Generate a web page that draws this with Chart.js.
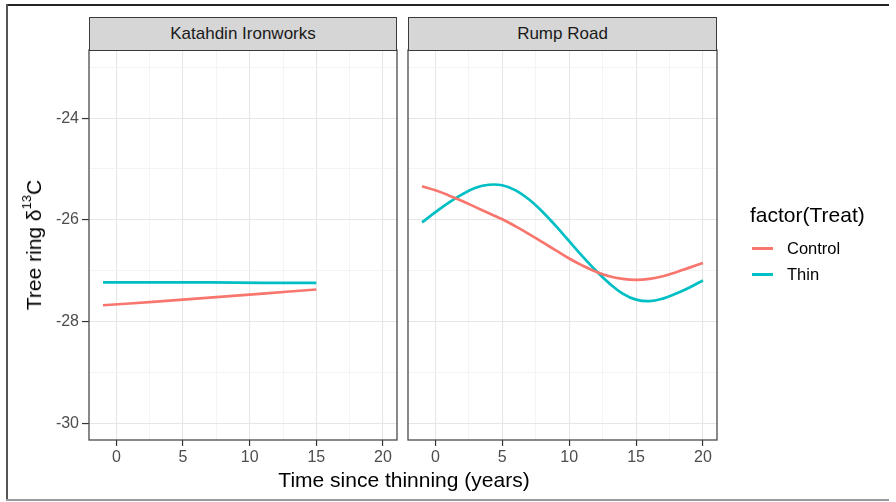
<!DOCTYPE html>
<html>
<head>
<meta charset="utf-8">
<script src="https://cdn.jsdelivr.net/npm/chart.js@4/dist/chart.umd.min.js"></script>
<style>
  html, body { margin: 0; padding: 0; background: #fff; }
  #page { position: relative; width: 896px; height: 502px; overflow: hidden; background: #fff;
          font-family: "Liberation Sans", Arial, Helvetica, sans-serif; }
  canvas { position: absolute; left: 0; top: 0; }
  .strip { position: absolute; top: 17px; height: 32px; background: #d6d6d6; border: 1px solid #3a3a3a;
           box-sizing: content-box; text-align: center; line-height: 32px; font-size: 17px; color: #1a1a1a; }
  .frameTop { position: absolute; left: 6px; top: 4px; width: 883px; height: 2px; background: #232323; }
  .frameLeft { position: absolute; left: 6px; top: 4px; width: 2px; height: 497px; background: #555; }
  .frameBottom { position: absolute; left: 6px; top: 499px; width: 883px; height: 2px; background: #9a9a9a; }
  .title { position: absolute; font-size: 21px; color: #000; white-space: nowrap; }
  .legKey { position: absolute; left: 752px; width: 21px; height: 3px; }
  .legLab { position: absolute; left: 787px; font-size: 16.5px; color: #000; line-height: 20px; }
</style>
</head>
<body>
<div id="page">
  <div class="frameTop"></div>
  <div class="frameLeft"></div>
  <div class="frameBottom"></div>
  <canvas id="panelA" width="896" height="502"></canvas>
  <canvas id="panelB" width="896" height="502"></canvas>
  <div class="strip" id="stripA" style="left:89px; width:306px;"></div>
  <div class="strip" id="stripB" style="left:408px; width:307px;"></div>
  <div class="title" style="left:34px; top:245px; transform: translate(-50%,-50%) rotate(-90deg);">Tree ring &#948;<sup style="font-size:13px; vertical-align: 10px; line-height:0;">13</sup>C</div>
  <div class="title" style="left:404px; top:480px; transform: translate(-50%,-50%);">Time since thinning (years)</div>
  <div class="title" style="left:750px; top:203px; line-height:24px;">factor(Treat)</div>
  <div id="legend"></div>
</div>
<script>
// Facet panels (sites)
const sites = ["Katahdin Ironworks", "Rump Road"];
const treatments = ["Control", "Thin"];
const treatColors = ["#F8766D", "#00BFC4"];

// Katahdin Ironworks fitted curves
const kiTime = [-1, 3, 7, 11, 15];
const kiControl = [-27.68, -27.61, -27.53, -27.45, -27.37];
const kiThin = [-27.23, -27.23, -27.23, -27.24, -27.24];

// Rump Road fitted curves
const rrTime = [-1, 0, 1, 2, 3, 4, 5, 6, 7, 8, 9, 10, 11, 12, 13, 14, 15, 16, 17, 18, 19, 20];
const rrControl = [-25.34, -25.42, -25.52, -25.63, -25.75, -25.87, -25.99, -26.13, -26.28, -26.44, -26.60,
                   -26.76, -26.90, -27.02, -27.11, -27.16, -27.18, -27.16, -27.11, -27.03, -26.94, -26.85];
const rrThin = [-26.05, -25.85, -25.66, -25.50, -25.37, -25.31, -25.32, -25.42, -25.60, -25.84, -26.12,
                -26.42, -26.72, -27.00, -27.25, -27.45, -27.57, -27.60, -27.55, -27.45, -27.33, -27.19];

// Axis ticks
const xTicks = [0, 5, 10, 15, 20];
const xMinorTicks = [2.5, 7.5, 12.5, 17.5];
const yTicks = [-30, -28, -26, -24];
const yMinorTicks = [-29, -27, -25, -23];
const xLimits = [-2.05, 21.05];
const yLimits = [-30.33, -22.66];

document.getElementById("stripA").textContent = sites[0];
document.getElementById("stripB").textContent = sites[1];

// legend entries
const legend = document.getElementById("legend");
treatments.forEach((t, i) => {
  const cy = 248 + i * 26;
  const key = document.createElement("div");
  key.className = "legKey";
  key.style.top = (cy - 1.5) + "px";
  key.style.background = treatColors[i];
  legend.appendChild(key);
  const lab = document.createElement("div");
  lab.className = "legLab";
  lab.style.top = (cy - 10) + "px";
  lab.textContent = t;
  legend.appendChild(lab);
});

const panelBorder = {
  id: "panelBorder",
  afterDraw(chart) {
    const { ctx, chartArea: a } = chart;
    ctx.save();
    ctx.strokeStyle = "#4a4a4a";
    ctx.lineWidth = 1.3;
    ctx.strokeRect(a.left, a.top, a.right - a.left, a.bottom - a.top);
    ctx.restore();
  }
};

const tickFont = { family: "'Liberation Sans', Arial, sans-serif", size: 16 };

function series(times, values, color) {
  return {
    data: times.map((t, i) => ({ x: t, y: values[i] })),
    borderColor: color,
    borderWidth: 2.7,
    pointRadius: 0,
    tension: 0.4,
    fill: false
  };
}

function gridFor(minor) {
  return {
    color: (c) => (minor.includes(c.tick.value) ? "#f1f1f1" : "#e6e6e6"),
    lineWidth: (c) => (minor.includes(c.tick.value) ? 0.8 : 1.1),
    tickColor: (c) => (minor.includes(c.tick.value) ? "rgba(0,0,0,0)" : "#333333"),
    tickLength: 6,
    tickWidth: 1.2
  };
}

function makePanel(canvasId, times, ctrl, thin, padLeft, padRight, showY) {
  return new Chart(document.getElementById(canvasId), {
    type: "line",
    data: {
      datasets: [
        series(times, ctrl, treatColors[0]),
        series(times, thin, treatColors[1])
      ]
    },
    options: {
      responsive: false,
      animation: false,
      events: [],
      layout: { padding: { left: padLeft, right: padRight, top: 50, bottom: 32 } },
      plugins: { legend: { display: false }, tooltip: { enabled: false } },
      scales: {
        x: {
          type: "linear",
          min: xLimits[0], max: xLimits[1],
          afterBuildTicks: (s) => { s.ticks = [...xTicks, ...xMinorTicks].sort((a, b) => a - b).map(v => ({ value: v })); },
          afterFit: (s) => { s.height = 30; },
          border: { display: false },
          grid: gridFor(xMinorTicks),
          ticks: {
            autoSkip: false, maxRotation: 0, padding: 2,
            color: "#4d4d4d", font: tickFont,
            callback: (v) => (xTicks.includes(v) ? String(v) : "")
          }
        },
        y: {
          type: "linear",
          min: yLimits[0], max: yLimits[1],
          afterBuildTicks: (s) => { s.ticks = [...yTicks, ...yMinorTicks].sort((a, b) => a - b).map(v => ({ value: v })); },
          afterFit: (s) => { s.width = showY ? 89 : 0; },
          border: { display: false },
          grid: Object.assign(gridFor(yMinorTicks), showY ? { tickLength: 7 } : { drawTicks: false }),
          ticks: {
            display: showY, autoSkip: false, padding: 3,
            color: "#4d4d4d", font: tickFont,
            callback: (v) => (yTicks.includes(v) ? String(v) : "")
          }
        }
      }
    },
    plugins: [panelBorder]
  });
}

makePanel("panelA", kiTime, kiControl, kiThin, 0, 896 - 397, true);
makePanel("panelB", rrTime, rrControl, rrThin, 408, 896 - 717, false);
</script>
</body>
</html>
